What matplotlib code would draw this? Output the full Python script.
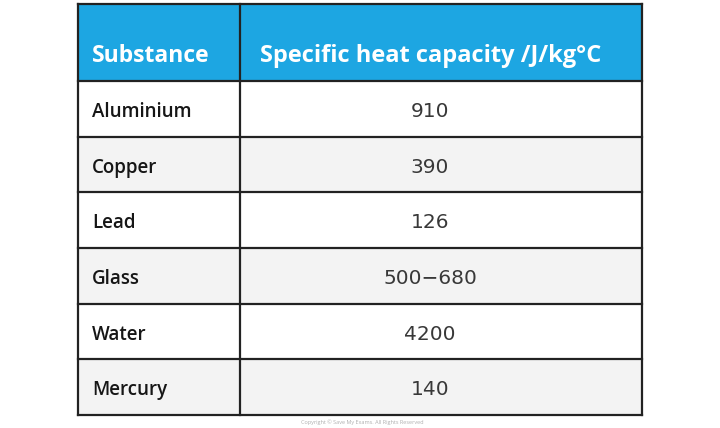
import matplotlib.pyplot as plt
from matplotlib.patches import Rectangle

# table content
header = ["Substance", "Specific heat capacity /J/kg°C"]
substances = ["Aluminium", "Copper", "Lead", "Glass", "Water", "Mercury"]
capacities = ["910", "390", "126", "500−680", "4200", "140"]

# layout in pixels
left, mid, right = 78, 240, 642
top, head_bottom, bottom = 4, 81, 415
row_h = (bottom - head_bottom) / len(substances)
blue = "#1da6e2"
grey = "#f3f3f3"
edge = "#222222"

plt.rcParams['font.family'] = ['Open Sans', 'DejaVu Sans']

fig = plt.figure(figsize=(7.2, 4.28), dpi=100)
ax = fig.add_axes([0, 0, 1, 1])
ax.set_xlim(0, 720)
ax.set_ylim(428, 0)
ax.axis('off')

### header ###
ax.add_patch(Rectangle((left, top), right - left, head_bottom - top,
                       facecolor=blue, edgecolor='none'))
ax.text(92, 62, header[0], color='white', fontsize=16.5, fontweight='bold',
        va='baseline', ha='left')
ax.text(431, 62, header[1], color='white', fontsize=17, fontweight='bold',
        va='baseline', ha='center')

### body rows ###
for i, (name, val) in enumerate(zip(substances, capacities)):
    y0 = head_bottom + i * row_h
    fc = 'white' if i % 2 == 0 else grey
    ax.add_patch(Rectangle((left, y0), right - left, row_h,
                           facecolor=fc, edgecolor='none'))
    ax.text(92, y0 + 36, name, color='#161616', fontsize=13.5,
            fontweight='semibold', va='baseline', ha='left')
    ax.text(430, y0 + 36, val, color='#383838', fontsize=14.5,
            family='DejaVu Sans', va='baseline', ha='center')

### grid lines ###
lw = 1.6
for k in range(len(substances) + 1):
    y = head_bottom + k * row_h
    ax.plot([left, right], [y, y], color=edge, lw=lw, solid_capstyle='projecting')
ax.plot([left, right], [top, top], color=edge, lw=lw, solid_capstyle='projecting')
for x in (left, mid, right):
    ax.plot([x, x], [top, bottom], color=edge, lw=lw, solid_capstyle='projecting')

ax.text(362, 422, "Copyright © Save My Exams. All Rights Reserved",
        color='#b0b0b0', fontsize=4, ha='center', va='center')

fig.savefig("out.png", dpi=100)
